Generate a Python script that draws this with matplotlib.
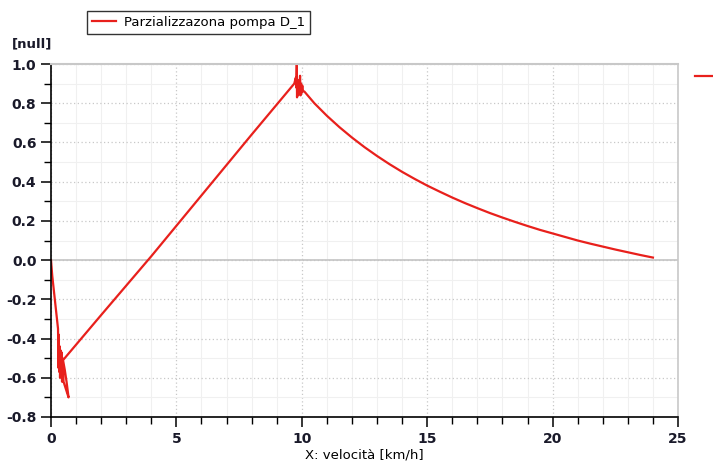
import matplotlib
matplotlib.use("Agg")
import matplotlib.pyplot as plt
from matplotlib.ticker import MultipleLocator
from matplotlib.lines import Line2D

# -----------------------------
# Data
# -----------------------------
velocita = [0.0, 0.05, 0.28, 0.30, 0.31, 0.33, 0.35, 0.36, 0.38, 0.40, 0.42, 0.44,
            0.46, 0.50, 0.60, 0.70, 0.62, 0.55, 0.48,
            2.0, 4.0, 6.0, 8.0, 9.70, 9.76, 9.78, 9.80, 9.81, 9.83, 9.85, 9.88, 9.90,
            9.93, 9.95, 9.97, 9.98, 10.02, 10.05, 10.1,
            10.5, 11.0, 11.5, 12.0, 12.5, 13.0, 13.5, 14.0, 14.5, 15.0, 15.5, 16.0,
            16.5, 17.0, 17.5, 18.0, 18.5, 19.0, 19.5, 20.0, 20.5, 21.0, 21.5, 22.0,
            22.5, 23.0, 23.5, 24.0]
parzializzazione = [0.0, -0.08, -0.35, -0.55, -0.38, -0.57, -0.44, -0.60, -0.46, -0.58, -0.47, -0.62,
                    -0.50, -0.62, -0.66, -0.70, -0.62, -0.56, -0.51,
                    -0.28, 0.02, 0.33, 0.64, 0.90, 0.93, 0.88, 1.00, 0.83, 0.92, 0.84, 0.91, 0.85,
                    0.94, 0.84, 0.90, 0.85, 0.89, 0.86, 0.86,
                    0.800, 0.736, 0.678, 0.625, 0.576, 0.531, 0.489, 0.450, 0.414, 0.380, 0.349, 0.319,
                    0.291, 0.265, 0.240, 0.217, 0.195, 0.174, 0.154, 0.136, 0.118, 0.100, 0.084, 0.069,
                    0.054, 0.040, 0.026, 0.013]

label = "Parzializzazona pompa D_1"
red = "#e8201c"

fig = plt.figure(figsize=(7.13, 4.71), dpi=100)
ax = fig.add_axes([51 / 713, 1 - 417 / 471, (678 - 51) / 713, (417 - 64) / 471])

ax.plot(velocita, parzializzazione, color=red, lw=1.6, label=label)

ax.set_xlim(0, 25)
ax.set_ylim(-0.8, 1.0)
ax.xaxis.set_major_locator(MultipleLocator(5))
ax.xaxis.set_minor_locator(MultipleLocator(1))
ax.yaxis.set_major_locator(MultipleLocator(0.2))
ax.yaxis.set_minor_locator(MultipleLocator(0.1))
ax.set_yticks([-0.8, -0.6, -0.4, -0.2, 0.0, 0.2, 0.4, 0.6, 0.8, 1.0])
ax.set_yticklabels(["-0.8", "-0.6", "-0.4", "-0.2", "0.0", "0.2", "0.4", "0.6", "0.8", "1.0"])

# grid: dotted major, faint minor, solid zero line
ax.grid(which="major", color="#c8c8c8", linestyle=(0, (1, 2)), lw=0.9)
ax.grid(which="minor", color="#f0f0f0", linestyle="-", lw=0.8)
ax.axhline(0, color="#c4c4c4", lw=1.2, zorder=1)
ax.set_axisbelow(True)

ax.spines["top"].set_color("#c8c8c8")
ax.spines["right"].set_color("#c8c8c8")
ax.spines["top"].set_linewidth(1.5)
ax.spines["right"].set_linewidth(1.2)
ax.spines["left"].set_linewidth(1.2)
ax.spines["bottom"].set_linewidth(1.2)

ax.tick_params(which="major", direction="out", length=7, width=1.1, labelsize=10)
ax.tick_params(which="minor", direction="out", length=5, width=1.0)
for t in ax.get_xticklabels() + ax.get_yticklabels():
    t.set_fontweight("bold")
    t.set_color("#1a1a2a")

ax.set_xlabel("X: velocità [km/h]", fontsize=9.5, labelpad=2)
fig.text(12 / 713, 1 - 44 / 471, "[null]", fontsize=9.5, fontweight="bold",
         va="center", ha="left", color="#1a1a2a")

# legend above the plot
leg = fig.legend(handles=[Line2D([], [], color=red, lw=1.6)], labels=[label],
                 loc="upper left", bbox_to_anchor=(80 / 713, 1 - 4 / 471),
                 fontsize=9.5, frameon=True, fancybox=False, handlelength=1.8,
                 borderpad=0.4, handletextpad=0.6)
leg.get_frame().set_edgecolor("black")
leg.get_frame().set_linewidth(1.0)

# second, cut-off legend marker on the right edge
fig.add_artist(Line2D([695 / 713, 1.0], [1 - 76 / 471, 1 - 76 / 471], color=red, lw=1.6))

fig.savefig("out.png", dpi=100)
